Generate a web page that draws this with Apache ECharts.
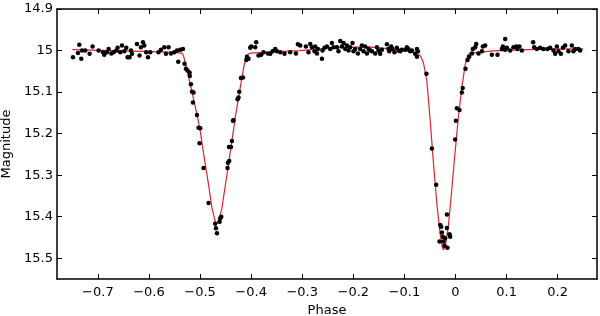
<!DOCTYPE html>
<html>
<head>
<meta charset="utf-8">
<script src="https://cdn.jsdelivr.net/npm/echarts@6/dist/echarts.min.js"></script>
<style>
html,body{margin:0;padding:0;background:#fff;}
#c{width:600px;height:316px;}
</style>
</head>
<body>
<div id="c"></div>
<script>
// Observed photometry
var obsPhase = [
-0.7487,-0.7390,-0.7364,-0.7325,-0.7310,-0.7247,-0.7162,-0.7104,-0.6986,-0.6900,
-0.6875,-0.6822,-0.6790,-0.6738,-0.6693,-0.6640,-0.6614,-0.6562,-0.6528,-0.6483,
-0.6444,-0.6419,-0.6380,-0.6352,-0.6333,-0.6235,-0.6184,-0.6157,-0.6117,-0.6092,
-0.6053,-0.6020,-0.5975,-0.5812,-0.5765,-0.5700,-0.5667,-0.5616,-0.5570,-0.5505,
-0.5452,-0.5427,-0.5388,-0.5335,
-0.5303,-0.5276,-0.5245,-0.5205,-0.5200,-0.5178,-0.5158,-0.5127,-0.5139,-0.5061,
-0.5029,-0.4996,-0.5010,-0.4932,-0.4834,-0.4703,-0.4689,-0.4669,-0.4618,-0.4605,
-0.4585,-0.4462,-0.4454,-0.4429,-0.4434,-0.4395,-0.4376,-0.4356,-0.4344,-0.4266,
-0.4247,-0.4233,-0.4200,-0.4160,-0.4096,-0.4082,-0.4051,-0.4018,-0.3998,-0.3920,
-0.3900,
-0.3855,-0.3802,-0.3757,-0.3671,-0.3626,-0.3581,-0.3528,-0.3495,-0.3430,-0.3346,
-0.3235,-0.3123,-0.3084,-0.3039,-0.2928,-0.2877,-0.2843,-0.2810,-0.2759,-0.2746,
-0.2712,-0.2693,-0.2614,-0.2603,-0.2564,-0.2517,-0.2452,-0.2419,-0.2387,-0.2321,
-0.2290,-0.2256,-0.2223,-0.2192,-0.2158,-0.2125,-0.2094,-0.2061,-0.2016,-0.1996,
-0.1963,-0.1910,-0.1865,-0.1832,-0.1800,-0.1767,-0.1734,-0.1703,-0.1669,-0.1636,
-0.1571,-0.1538,-0.1507,-0.1474,-0.1440,-0.1342,-0.1311,-0.1297,-0.1258,-0.1233,
-0.1194,-0.1147,-0.1115,-0.1082,-0.1049,-0.0984,-0.0951,-0.0920,-0.0886,-0.0853,
-0.0789,-0.0755,-0.0736,-0.0755,
-0.0568,-0.0462,-0.0378,-0.0313,-0.0299,-0.0280,-0.0266,-0.0247,-0.0235,-0.0215,
-0.0202,-0.0168,-0.0168,-0.0157,-0.0117,-0.0104,-0.0006,0.0008,0.0027,0.0078,
0.0125,0.0141,0.0196,0.0235,
0.0268,0.0321,0.0340,0.0386,0.0405,0.0450,0.0517,0.0536,0.0581,0.0712,
0.0822,0.0908,0.0928,0.0973,0.0973,0.1006,0.1070,0.1135,0.1188,0.1213,
0.1252,0.1299,0.1520,0.1540,0.1593,0.1658,0.1722,0.1800,0.1853,0.1918,
0.1951,0.1984,0.2016,0.2063,0.2102,0.2147,0.2211,0.2278,0.2309,0.2342,
0.2407,0.2440
];
var obsMag = [
15.016,15.006,14.986,15.020,15.000,15.000,15.008,14.990,15.000,15.004,
15.010,15.004,14.996,15.007,15.004,15.000,14.993,15.004,14.988,15.002,
14.993,15.016,15.016,15.000,15.008,14.984,15.012,14.992,14.980,14.988,
15.004,15.016,15.004,15.004,14.998,14.992,15.008,14.992,15.007,15.004,
15.000,15.027,14.998,14.996,
15.032,15.044,15.048,15.053,15.061,15.081,15.099,15.101,15.125,15.155,
15.186,15.187,15.223,15.283,15.367,15.417,15.428,15.440,15.412,15.404,
15.400,15.283,15.270,15.266,15.232,15.232,15.218,15.169,15.168,15.117,
15.113,15.099,15.066,15.065,15.023,15.015,15.020,14.993,14.990,14.992,
14.980,
15.012,15.010,15.004,15.007,15.008,15.002,14.996,15.002,15.004,15.008,
15.004,15.007,14.985,14.988,14.990,15.004,14.984,14.992,15.002,14.990,
15.007,14.996,15.020,15.000,14.993,14.990,14.996,14.982,14.992,14.992,
15.002,14.977,14.990,14.982,14.996,14.988,15.000,14.992,14.982,15.002,
14.996,15.007,14.996,14.988,15.002,14.990,15.007,14.996,15.000,15.002,
15.007,14.992,15.000,15.008,14.998,14.985,14.996,15.002,14.990,14.996,
15.004,14.993,15.000,15.002,14.998,14.998,14.992,14.996,15.002,15.000,
15.008,14.996,15.002,15.015,
15.056,15.236,15.323,15.460,15.420,15.424,15.438,15.448,15.460,15.470,
15.452,15.395,15.427,15.475,15.442,15.448,15.214,15.169,15.139,15.143,
15.101,15.090,15.044,15.023,
15.015,15.007,14.996,14.992,14.984,15.007,15.002,14.990,14.988,15.010,
15.010,14.996,14.990,14.972,14.998,14.993,15.000,14.992,14.990,14.996,
14.990,15.000,14.980,14.992,14.996,14.993,14.996,14.996,14.993,15.000,
15.008,14.990,15.002,15.008,14.993,14.988,15.002,14.988,15.002,14.996,
14.996,15.000
];
// Model light curve
var modelPhase = [
-0.75,-0.65,-0.56,-0.5354,-0.5323,-0.529,-0.5192,-0.5061,-0.4996,-0.4932,
-0.4834,-0.4767,-0.4703,-0.4669,-0.4638,-0.4571,-0.454,-0.4474,-0.4442,-0.4376,
-0.4311,-0.4213,-0.4135,-0.4096,-0.407,-0.4018,-0.3665,-0.3039,-0.2354,-0.1708,
-0.1082,-0.0789,-0.0724,-0.0681,-0.0626,-0.056,-0.0495,-0.0431,-0.0364,-0.0299,
-0.026,-0.0235,-0.0196,-0.0137,-0.007,-0.0006,0.0059,0.0125,0.019,0.0239,
0.0288,0.0483,0.0738,0.1403,0.2049,0.25
];
var modelMag = [
14.998,15.001,15.004,15.006,15.013,15.029,15.081,15.153,15.194,15.247,
15.323,15.379,15.412,15.417,15.412,15.379,15.353,15.299,15.272,15.218,
15.161,15.089,15.034,15.019,15.010,15.006,15.004,15.000,14.993,14.991,
14.998,15.006,15.009,15.014,15.030,15.073,15.169,15.271,15.370,15.443,
15.472,15.480,15.470,15.420,15.331,15.242,15.157,15.089,15.034,15.012,
15.006,15.004,15.001,14.998,14.996,14.996
];
var xTicks = [-0.7,-0.6,-0.5,-0.4,-0.3,-0.2,-0.1,0,0.1,0.2];
var xTickLabels = ['\u22120.7','\u22120.6','\u22120.5','\u22120.4','\u22120.3','\u22120.2','\u22120.1','0','0.1','0.2'];
var yTicks = [14.9,15.0,15.1,15.2,15.3,15.4,15.5];
var yTickLabels = ['14.9','15','15.1','15.2','15.3','15.4','15.5'];

function labelFor(ticks, labels){
  return function(v){
    for (var i=0;i<ticks.length;i++){ if (Math.abs(ticks[i]-v)<1e-6) return labels[i]; }
    return '';
  };
}
var obsData = obsPhase.map(function(p,i){return [p, obsMag[i]];});
var modelData = modelPhase.map(function(p,i){return [p, modelMag[i]];});

var FONT = 'DejaVu Sans';
var axisLineStyle = {color:'#000', width:1.5};
var tickStyle = {color:'#000', width:1};

var chart = echarts.init(document.getElementById('c'), null, {renderer:'canvas'});
chart.setOption({
  animation:false,
  backgroundColor:'#fff',
  grid:{left:57, right:3, top:9, bottom:37, containLabel:false, outerBoundsMode:'none'},
  xAxis:[{
    type:'value', min:-0.78, max:0.277, position:'bottom',
    axisLine:{show:true, onZero:false, lineStyle:axisLineStyle},
    axisTick:{show:true, inside:true, length:5, customValues:xTicks, lineStyle:tickStyle},
    axisLabel:{show:true, customValues:xTicks, formatter:labelFor(xTicks,xTickLabels), color:'#000', fontSize:13, fontFamily:FONT, margin:7},
    splitLine:{show:false},
    name:'Phase', nameLocation:'middle', nameGap:21,
    nameTextStyle:{color:'#000', fontSize:13, fontFamily:FONT}
  },{
    type:'value', min:-0.78, max:0.277, position:'top',
    axisLine:{show:true, onZero:false, lineStyle:axisLineStyle},
    axisTick:{show:true, inside:true, length:5, customValues:xTicks, lineStyle:tickStyle},
    axisLabel:{show:false},
    splitLine:{show:false}
  }],
  yAxis:[{
    type:'value', min:14.9, max:15.55, inverse:true, position:'left',
    axisLine:{show:true, onZero:false, lineStyle:axisLineStyle},
    axisTick:{show:true, inside:true, length:5, customValues:yTicks, lineStyle:tickStyle},
    axisLabel:{show:true, customValues:yTicks, formatter:labelFor(yTicks,yTickLabels), color:'#000', fontSize:13, fontFamily:FONT, margin:4},
    splitLine:{show:false},
    name:'Magnitude', nameLocation:'middle', nameGap:38, nameRotate:90,
    nameTextStyle:{color:'#000', fontSize:13, fontFamily:FONT}
  },{
    type:'value', min:14.9, max:15.55, inverse:true, position:'right',
    axisLine:{show:true, onZero:false, lineStyle:axisLineStyle},
    axisTick:{show:true, inside:true, length:5, customValues:yTicks, lineStyle:tickStyle},
    axisLabel:{show:false},
    splitLine:{show:false}
  }],
  series:[{
    type:'line', xAxisIndex:0, yAxisIndex:0, data:modelData,
    showSymbol:false, symbol:'none', smooth:false,
    lineStyle:{color:'#e3222e', width:1.2}, z:2
  },{
    type:'scatter', xAxisIndex:0, yAxisIndex:0, data:obsData,
    symbol:'circle', symbolSize:4.5,
    itemStyle:{color:'#000', opacity:1}, z:3
  }]
});
</script>
</body>
</html>
